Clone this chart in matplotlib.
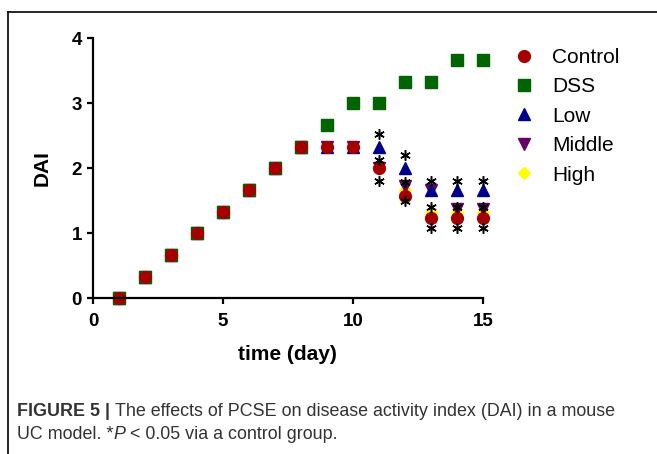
import matplotlib
matplotlib.use("Agg")
import matplotlib.pyplot as plt
from matplotlib.lines import Line2D

plt.rcParams['font.family'] = ['Liberation Sans', 'DejaVu Sans']

days = list(range(1, 16))
early = [0, 0.33, 0.67, 1.0, 1.33, 1.67, 2.0, 2.33, 2.33, 2.33]

control = early + [2.0, 1.57, 1.23, 1.23, 1.23]
dss = early[:8] + [2.67, 3.0, 3.0, 3.33, 3.33, 3.67, 3.67]
low = early + [2.33, 2.0, 1.67, 1.67, 1.67]
middle = early + [2.0, 1.73, 1.67, 1.38, 1.38]
high = early + [2.0, 1.67, 1.33, 1.33, 1.33]

# asterisks (*P < 0.05)
star_x = [11, 11, 11, 12, 12, 12, 13, 13, 13, 14, 14, 14, 15, 15, 15]
star_y = [2.53, 2.13, 1.80, 2.20, 1.79, 1.49, 1.80, 1.40, 1.08,
          1.80, 1.40, 1.08, 1.80, 1.40, 1.08]

fig = plt.figure(figsize=(6.57, 4.54), dpi=100)
ax = fig.add_axes([0.1415, 0.343, 0.5935, 0.5727])

ms = 8.5
h_high, = ax.plot(days, high, 'D', color='#FFFF00', ms=6.5, ls='none', label='High', clip_on=False)
h_mid, = ax.plot(days, middle, 'v', color='#660066', ms=ms, ls='none', label='Middle', clip_on=False)
h_low, = ax.plot(days, low, '^', color='#00008B', ms=ms, ls='none', label='Low', clip_on=False)
h_dss, = ax.plot(days, dss, 's', color='#006400', ms=ms, ls='none', label='DSS', clip_on=False)
h_ctl, = ax.plot(days, control, 'o', color='#A50000', ms=ms, ls='none', label='Control', clip_on=False)
ax.plot(star_x, star_y, marker=(6, 2, 0), color='black', ms=7.5, mew=1.1, ls='none', clip_on=False)

ax.set_xlim(0, 15)
ax.set_ylim(0, 4)
ax.set_xticks([0, 5, 10, 15])
ax.set_yticks([0, 1, 2, 3, 4])
ax.spines['top'].set_visible(False)
ax.spines['right'].set_visible(False)
for s in ['left', 'bottom']:
    ax.spines[s].set_linewidth(1.6)
ax.tick_params(width=1.6, length=4.5, labelsize=13.5)
ax.tick_params(axis='x', pad=6)
for lab in ax.get_xticklabels() + ax.get_yticklabels():
    lab.set_fontweight('bold')
ax.set_xlabel('time (day)', fontsize=15, fontweight='bold', labelpad=11)
ax.set_ylabel('DAI', fontsize=15, fontweight='bold', labelpad=14)

ax.legend(handles=[h_ctl, h_dss, h_low, h_mid, h_high], frameon=False,
          fontsize=15, loc='upper left', bbox_to_anchor=(1.025, 1.035),
          handletextpad=0.75, labelspacing=0.5, handlelength=1.2)

# frame lines
fig.add_artist(Line2D([8 / 657, 1], [1 - 12 / 454, 1 - 12 / 454], color='black', lw=1.2))
fig.add_artist(Line2D([8 / 657, 8 / 657], [0, 1 - 12 / 454], color='black', lw=1.2))

# caption
cap_color = '#333333'
fig.canvas.draw()
renderer = fig.canvas.get_renderer()


def put_pieces(pieces, x0, y0):
    x = x0
    for txt, kw in pieces:
        t = fig.text(x, y0, txt, fontsize=12.85, color=cap_color, va='baseline', **kw)
        bb = t.get_window_extent(renderer)
        x += bb.width / fig.bbox.width


put_pieces([('FIGURE 5 | ', {'fontweight': 'bold'}),
            ('The effects of PCSE on disease activity index (DAI) in a mouse', {})],
           17 / 657, 1 - 416 / 454)
put_pieces([('UC model. *', {}), ('P', {'style': 'italic'}),
            (' < 0.05 via a control group.', {})],
           17 / 657, 1 - 439 / 454)

fig.savefig('out.png', dpi=100)
